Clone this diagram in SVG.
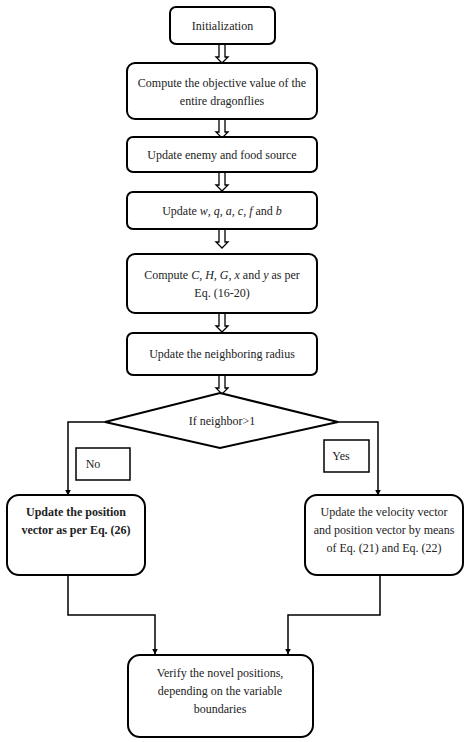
<svg xmlns="http://www.w3.org/2000/svg" width="474" height="742" viewBox="0 0 474 742">
<style>
.box{fill:#fff;stroke:#000;stroke-width:2}
.lbl{fill:#fff;stroke:#000;stroke-width:1.5}
.t{font-family:"Liberation Serif",serif;font-size:12px;fill:#222;text-anchor:middle}
.b{font-weight:bold}
.i{font-style:italic}
.ln{fill:none;stroke:#000;stroke-width:1.5}
.ha{fill:#fff;stroke:#000;stroke-width:1.3}
</style>
<defs>
<marker id="ah" viewBox="0 0 10 10" refX="9" refY="5" markerWidth="6" markerHeight="6" orient="auto" markerUnits="userSpaceOnUse">
<path d="M0,0 L10,5 L0,10 z" fill="#000"/>
</marker>
<path id="hollow" d="M-3,0 V13 H-6 L0,19 L6,13 H3 V0" class="ha"/>
</defs>
<g id="connectors">
<use href="#hollow" x="222" y="44"/>
<use href="#hollow" x="222" y="119"/>
<use href="#hollow" x="222" y="172"/>
<use href="#hollow" x="222" y="229"/>
<use href="#hollow" x="222" y="313"/>
<use href="#hollow" x="222" y="375"/>
<path class="ln" d="M105,422 H68 V495" marker-end="url(#ah)"/>
<path class="ln" d="M338,422 H378 V495" marker-end="url(#ah)"/>
<path class="ln" d="M68,575 V615 H155 V654" marker-end="url(#ah)"/>
<path class="ln" d="M380,575 V615 H288 V654" marker-end="url(#ah)"/>
</g>
<g id="n1"><rect class="box" x="170" y="7" width="105" height="37" rx="6"/><text class="t" x="222.5" y="30">Initialization</text></g>
<g id="n2"><rect class="box" x="127" y="63" width="190" height="56" rx="8"/><text class="t" x="222" y="87">Compute the objective value of the</text><text class="t" x="222" y="105">entire dragonflies</text></g>
<g id="n3"><rect class="box" x="127" y="137" width="190" height="35" rx="6"/><text class="t" x="222" y="159">Update enemy and food source</text></g>
<g id="n4"><rect class="box" x="127" y="192" width="190" height="37" rx="6"/><text class="t" x="222" y="215">Update <tspan class="i">w</tspan>, <tspan class="i">q</tspan>, <tspan class="i">a</tspan>, <tspan class="i">c</tspan>, <tspan class="i">f</tspan> and <tspan class="i">b</tspan></text></g>
<g id="n5"><rect class="box" x="127" y="254" width="190" height="59" rx="8"/><text class="t" x="222" y="279">Compute <tspan class="i">C</tspan>, <tspan class="i">H</tspan>, <tspan class="i">G</tspan>, <tspan class="i">x</tspan> and <tspan class="i">y</tspan> as per</text><text class="t" x="222" y="297">Eq. (16-20)</text></g>
<g id="n6"><rect class="box" x="127" y="333" width="190" height="42" rx="6"/><text class="t" x="222" y="358">Update the neighboring radius</text></g>
<g id="n7"><path class="box" d="M220,393 L338,422 L220,448 L105,422 Z"/><text class="t" x="222" y="425">If neighbor&gt;1</text></g>
<g id="lno"><rect class="lbl" x="76" y="448" width="54" height="32"/><text class="t" x="93" y="468">No</text></g>
<g id="lyes"><rect class="lbl" x="324" y="440" width="45" height="32"/><text class="t" x="341" y="460">Yes</text></g>
<g id="n8"><rect class="box" x="7" y="495" width="138" height="80" rx="12"/><text class="t b" x="76" y="516">Update the position</text><text class="t b" x="76" y="534">vector as per Eq. (26)</text></g>
<g id="n9"><rect class="box" x="305" y="495" width="158" height="80" rx="12"/><text class="t" x="384" y="516">Update the velocity vector</text><text class="t" x="384" y="534">and position vector by means</text><text class="t" x="384" y="552">of Eq. (21) and Eq. (22)</text></g>
<g id="n10"><rect class="box" x="128" y="655" width="185" height="82" rx="12"/><text class="t" x="220" y="677">Verify the novel positions,</text><text class="t" x="220" y="695">depending on the variable</text><text class="t" x="220" y="713">boundaries</text></g>
</svg>
